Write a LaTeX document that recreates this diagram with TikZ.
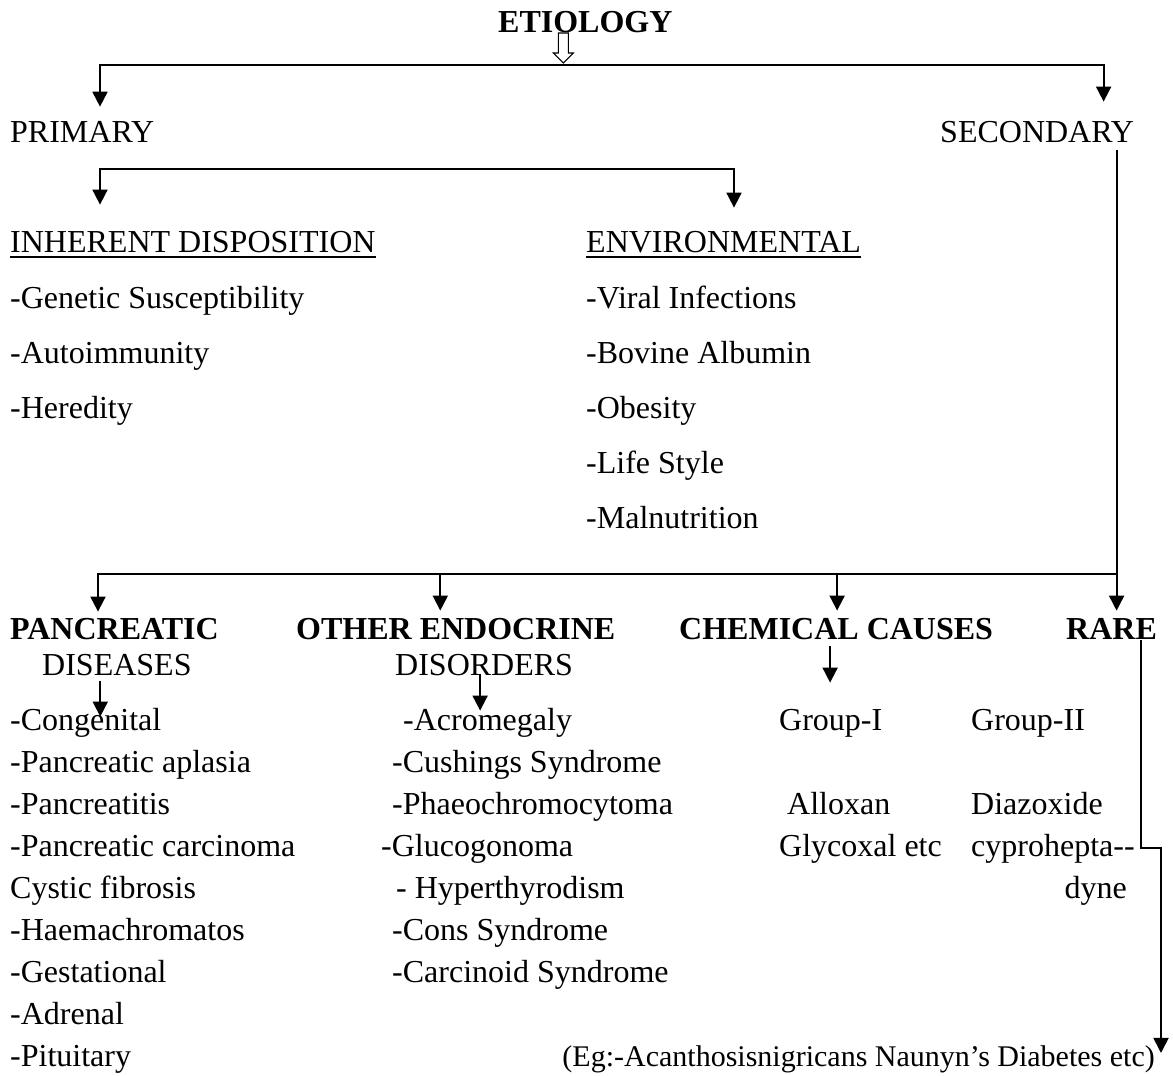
\documentclass[tikz,border=0pt]{standalone}
\usepackage{fontspec}
\setmainfont{Liberation Serif}
\usetikzlibrary{arrows.meta,calc}

\newcommand{\ulbox}[1]{\vtop{\hbox{#1}\kern4pt\hrule height 1.5pt}}

\begin{document}
\begin{tikzpicture}[
        x=1pt, y=-1pt,
        link/.style={line width=1.8pt},
        arr/.style={link, -{Triangle[width=15pt,length=15pt]}},
        head/.style={font=\fontsize{32}{38}\selectfont\bfseries}]

        \tikzstyle{every node}=[font=\fontsize{32}{38}\selectfont, inner sep=0pt, anchor=base west]

        \useasboundingbox (0,0) rectangle (1173,1076);

        \node[head] (etio) at (498,32) {ETIOLOGY};
        \node (primary) at (10,142) {PRIMARY};
        \node (secondary) at (940,142) {SECONDARY};

        \node (inh) at (10,252) {\ulbox{INHERENT DISPOSITION}};
        \node (env) at (586,252) {\ulbox{ENVIRONMENTAL}};
        \foreach \txt [count=\i from 0] in {-Genetic Susceptibility, -Autoimmunity, -Heredity}
            \node (inh\i) at (10,308+55*\i) {\txt};
        \foreach \txt [count=\i from 0] in {-Viral Infections, -Bovine Albumin, -Obesity, -Life Style, -Malnutrition}
            \node (env\i) at (586,308+55*\i) {\txt};

        \node[head] (pan) at (10,639) {PANCREATIC};
        \node[head] (oth) at (296,639) {OTHER ENDOCRINE};
        \node[head] (chem) at (679,639) {CHEMICAL CAUSES};
        \node[head] (rare) at (1066,639) {RARE};
        \node (dis) at (42,675) {DISEASES};
        \node (dso) at (395,675) {DISORDERS};

        \foreach \txt [count=\i from 0] in {-Congenital, -Pancreatic aplasia, -Pancreatitis, -Pancreatic carcinoma, Cystic fibrosis, -Haemachromatos, -Gestational, -Adrenal, -Pituitary}
            \node (pan\i) at (10,730+42*\i) {\txt};
        \foreach \x/\txt [count=\i from 0] in {403/-Acromegaly, 392/-Cushings Syndrome, 392/-Phaeochromocytoma, 381/-Glucogonoma, 396/- Hyperthyrodism, 392/-Cons Syndrome, 392/-Carcinoid Syndrome}
            \node (oth\i) at (\x,730+42*\i) {\txt};

        \node (g1) at (779,730) {Group-I};
        \node (g2) at (971,730) {Group-II};
        \node (allox) at (787,814) {Alloxan};
        \node (diaz) at (971,814) {Diazoxide};
        \node (glyc) at (779,856) {Glycoxal etc};
        \node (cyp) at (971,856) {cyprohepta{-}{-}};
        \node[anchor=base east] (dyne) at (1127,898) {dyne};
        \node[anchor=base east, font=\fontsize{30}{36}\selectfont] (eg) at (1155,1066) {(Eg:-Acanthosisnigricans Naunyn’s Diabetes etc)};

        % top level
        \coordinate (ha) at ([xshift=-22pt]etio.base);
        \draw[line width=1.1pt, fill=white] ([xshift=-5pt,yshift=-1pt]ha) -- ++(0,20) -- ++(-5,0) -- ++(10,10) -- ++(10,-10) -- ++(-5,0) -- ++(0,-20) -- cycle;
        \coordinate (bar1) at ($(ha)+(0,33)$);
        \draw[arr] (bar1) -| ($(primary.north west)+(90,-14)$);
        \draw[arr] (bar1) -| ($(secondary.north east)+(-30.6,-19)$);

        \coordinate (bar2) at ($(inh.north west)+(300,-62)$);
        \draw[arr] (bar2) -| ($(inh.north west)+(90,-26)$);
        \draw[arr] (bar2) -| ($(env.north west)+(148,-23)$);

        % secondary branch
        \coordinate (s0) at ($(secondary.south east)+(-17.6,7)$);
        \draw[arr] (s0) -- ($(s0 |- rare.north)+(0,-7)$);
        \coordinate (bar3) at (s0 |- 0,574);
        \draw[arr] (bar3) -| ($(pan.north)+(-16.5,-6)$);
        \draw[arr] (bar3) -| ($(oth.north)+(-15.5,-7)$);
        \draw[arr] (bar3) -| ($(chem.north)+(1,-7)$);

        % sub lists
        \draw[arr] ($(dis.south)+(-16.6,5)$) -- ($(dis.south |- pan0.north)+(-16.6,9)$);
        \draw[arr] ($(dso.south)+(-4,-2)$) -- ($(dso.south |- oth0.north)+(-4,3)$);
        \draw[arr] ($(chem.south)+(-6,6)$) -- ($(chem.south |- g1.north)+(-6,-26)$);
        \coordinate (r0) at ($(rare.south east)+(-16,1)$);
        \draw[arr] (r0) -- (r0 |- cyp.east) -| ($(eg.north east)+(6,8)$);
\end{tikzpicture}
\end{document}
